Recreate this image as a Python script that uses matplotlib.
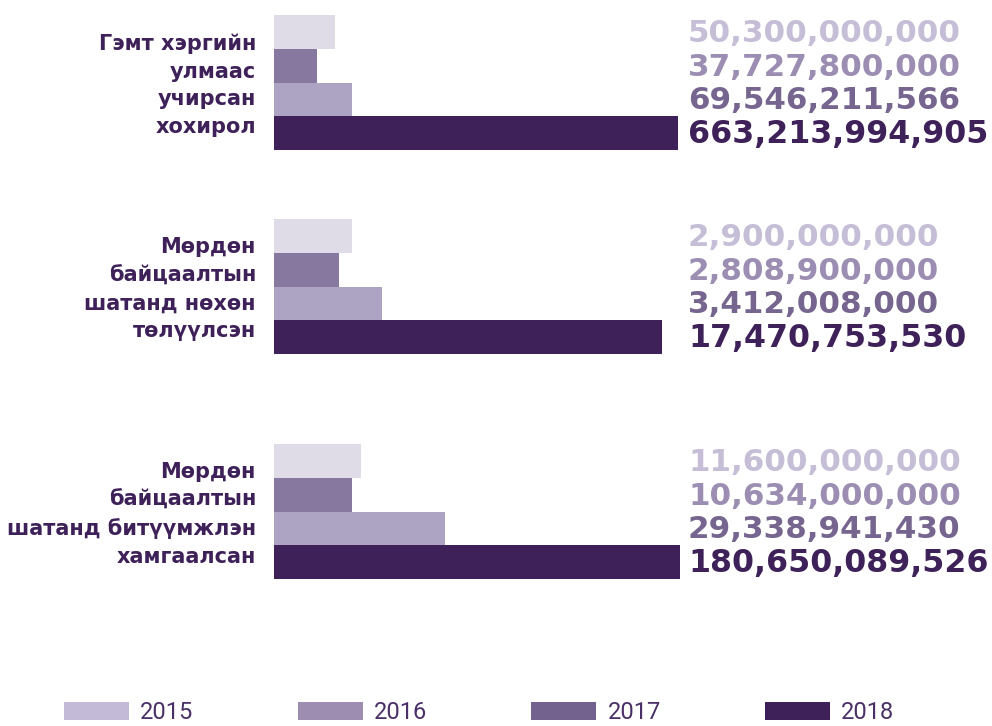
import matplotlib
matplotlib.use('Agg')
import matplotlib.pyplot as plt
from matplotlib.patches import Patch

# ---- data ----
years = ['2015', '2016', '2017', '2018']
categories = [
    'Гэмт хэргийн\nулмаас\nучирсан\nхохирол',
    'Мөрдөн\nбайцаалтын\nшатанд нөхөн\nтөлүүлсэн',
    'Мөрдөн\nбайцаалтын\nшатанд битүүмжлэн\nхамгаалсан',
]
values_2015 = [50300000000, 2900000000, 11600000000]
values_2016 = [37727800000, 2808900000, 10634000000]
values_2017 = [69546211566, 3412008000, 29338941430]
values_2018 = [663213994905, 17470753530, 180650089526]
# drawn bar lengths (the infographic does not scale bars to values)
barlen_2015 = [61, 78, 87]
barlen_2016 = [43, 65, 78]
barlen_2017 = [78, 108, 171]
barlen_2018 = [404, 388, 406]

# ---- styles ----
bar_colors = ['#dfdce8', '#86789e', '#ada4c3', '#3f2159']
text_colors = ['#c6bed7', '#9b8eb2', '#75658f', '#3f2159']
legend_colors = ['#c2bad6', '#9d8db0', '#73618e', '#3f2159']
label_color = '#3f2159'

W, H = 992, 726
fig = plt.figure(figsize=(W / 100, H / 100), dpi=100)
fig.patch.set_facecolor('white')
ax = fig.add_axes([0, 0, 1, 1])
ax.set_xlim(-274, W - 274)
unit = 33.75
ax.set_ylim(H / unit, 0)
ax.axis('off')

group_top = [15 / unit, 219 / unit, 444 / unit]
values = [values_2015, values_2016, values_2017, values_2018]
barlens = [barlen_2015, barlen_2016, barlen_2017, barlen_2018]

num_x = 688 - 274
for g in range(3):
    for i in range(4):
        yc = group_top[g] + 0.5 + i
        ax.barh(yc, barlens[i][g], height=1.0, left=0, color=bar_colors[i],
                edgecolor='none')
        fs = 22.3 if i < 3 else 22.8
        ax.annotate(f'{values[i][g]:,}', xy=(num_x, yc), xytext=(0, -7.2),
                    textcoords='offset points', ha='left', va='baseline',
                    fontsize=fs, fontweight='bold', color=text_colors[i],
                    family='DejaVu Sans')
    ax.text(-18, group_top[g] + 2.0 + 0.08, categories[g], ha='right', va='center',
            fontsize=15, fontweight='bold', color=label_color,
            linespacing=1.48, family='DejaVu Sans')

handles = [Patch(facecolor=c, edgecolor='none') for c in legend_colors]
fig.legend(handles, years, ncol=4, loc='upper left',
           bbox_to_anchor=(64 / W, 1 - 701 / H), frameon=False,
           borderpad=0, borderaxespad=0, handlelength=2.75, handleheight=0.8,
           handletextpad=0.47, columnspacing=4.42,
           prop={'family': 'Roboto', 'size': 17},
           labelcolor='#4b3068')

fig.savefig('out.png', dpi=100, facecolor='white')
